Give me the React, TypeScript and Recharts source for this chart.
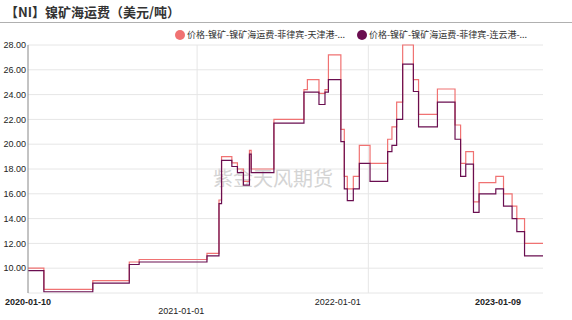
import React from "react";
import { LineChart, Line, XAxis, YAxis, CartesianGrid, ReferenceLine } from "recharts";

const dates = [
  "2020-01-10", "2020-02-16", "2020-06-09", "2020-09-02", "2020-09-25",
  "2021-03-02", "2021-03-30", "2021-04-05", "2021-04-29", "2021-05-12",
  "2021-05-26", "2021-06-09", "2021-06-13", "2021-08-05", "2021-10-14",
  "2021-10-22", "2021-11-18", "2021-12-02", "2021-12-10", "2022-01-08",
  "2022-01-16", "2022-01-23", "2022-02-06", "2022-02-20", "2022-03-17",
  "2022-04-27", "2022-05-07", "2022-05-18", "2022-06-01", "2022-06-26",
  "2022-07-08", "2022-08-21", "2022-10-01", "2022-10-14", "2022-10-26",
  "2022-11-13", "2022-11-26", "2023-01-04", "2023-01-22", "2023-02-11",
  "2023-02-22", "2023-03-12", "2023-04-24",
];

const tianjin = [
  10.0, 8.3, 9.0, 10.5, 10.7,
  11.2, 15.5, 19.0, 18.5, 18.0,
  17.0, 19.5, 18.0, 22.0, 24.4,
  25.2, 24.1, 24.4, 27.2, 21.2,
  17.4, 16.4, 17.4, 19.9, 18.45,
  20.4, 21.4, 23.4, 28.0, 25.2,
  22.4, 24.45, 21.55, 18.45, 19.4,
  15.35, 16.9, 17.4, 16.0, 15.0,
  14.0, 12.0, 12.0,
];

const lianyungang = [
  9.8, 8.1, 8.8, 10.3, 10.5,
  11.0, 15.2, 18.7, 18.2, 17.7,
  16.7, 19.2, 17.7, 21.7, 24.2,
  24.2, 23.2, 24.2, 25.2, 20.2,
  16.4, 15.45, 16.4, 18.45, 17.0,
  19.4, 19.9, 22.0, 26.45, 24.25,
  21.4, 23.4, 20.4, 17.4, 18.4,
  14.5, 16.0, 16.4, 15.0, 14.0,
  12.95, 11.0, 11.0,
];

const seriesNames = [
  "价格-镍矿-镍矿海运费-菲律宾-天津港-...",
  "价格-镍矿-镍矿海运费-菲律宾-连云港-...",
];
const seriesColors = ["#F07272", "#6A0E50"];

const xTickDates = ["2020-01-10", "2021-01-01", "2022-01-01", "2023-01-09"];
const boldTicks = ["2020-01-10", "2023-01-09"];
const yTicks = [10, 12, 14, 16, 18, 20, 22, 24, 26, 28];
const vGridDates = ["2021-02-07", "2022-03-13"];

const title = "【NI】镍矿海运费（美元/吨）";
const watermark = "紫金天风期货";

const data = dates.map((d, i) => ({
  t: Date.parse(d),
  a: tianjin[i],
  b: lianyungang[i],
}));

const fmtDate = (v: number) => new Date(v).toISOString().slice(0, 10);

const XTick = (props: any) => {
  const { x, y, payload, index } = props;
  const label = fmtDate(payload.value);
  const bold = boldTicks.includes(label);
  const extra = index === 1 ? 9 : 0;
  return (
    <text
      x={x}
      y={y + 4 + extra}
      textAnchor="middle"
      fontSize={9}
      fontFamily="Arial, 'Liberation Sans', sans-serif"
      fontWeight={bold ? 700 : 400}
      fill="#222"
    >
      {label}
    </text>
  );
};

export default function App() {
  return (
    <div
      style={{
        position: "absolute",
        left: 0,
        top: 0,
        width: 572,
        height: 320,
        background: "#fff",
        fontFamily: "Arial, 'Liberation Sans', sans-serif",
        overflow: "hidden",
      }}
    >
      <div
        style={{
          position: "absolute",
          left: 5,
          top: 3,
          fontSize: 13,
          fontWeight: 700,
          color: "#333",
          fontFamily: "'Noto Sans CJK SC', sans-serif",
          lineHeight: "18px",
          whiteSpace: "nowrap",
        }}
      >
        {title}
      </div>
      <div
        style={{
          position: "absolute",
          left: 0,
          top: 22,
          width: 572,
          height: 1,
          background: "#b0b0b0",
        }}
      />
      {seriesNames.map((name, i) => (
        <div
          key={name}
          style={{
            position: "absolute",
            left: i === 0 ? 175 : 357,
            top: 29,
            display: "flex",
            alignItems: "center",
            fontSize: 9,
            color: "#333",
            fontFamily: "'Noto Sans CJK SC', sans-serif",
            whiteSpace: "nowrap",
            lineHeight: "11px",
          }}
        >
          <span
            style={{
              display: "inline-block",
              width: 10,
              height: 10,
              borderRadius: 5,
              background: seriesColors[i],
              marginRight: 2,
            }}
          />
          {name}
        </div>
      ))}
      <div
        style={{
          position: "absolute",
          left: 213,
          top: 165,
          fontSize: 20,
          color: "#d4d4d4",
          fontFamily: "'Noto Sans CJK SC', sans-serif",
          whiteSpace: "nowrap",
          lineHeight: "26px",
        }}
      >
        {watermark}
      </div>
      <div style={{ position: "absolute", left: 0, top: 0 }}>
        <LineChart
          width={572}
          height={320}
          data={data}
          margin={{ top: 45, right: 29, bottom: 0, left: 0 }}
        >
          <CartesianGrid vertical={false} stroke="#e6e6e6" />
          {vGridDates.map((d) => (
            <ReferenceLine key={d} x={Date.parse(d)} stroke="#e6e6e6" />
          ))}
          <XAxis
            dataKey="t"
            type="number"
            scale="linear"
            domain={[Date.parse(dates[0]), Date.parse(dates[dates.length - 1])]}
            ticks={xTickDates.map((d) => Date.parse(d))}
            tick={<XTick />}
            axisLine={false}
            tickLine={false}
            height={27}
            interval={0}
          />
          <YAxis
            type="number"
            domain={[8, 28]}
            ticks={yTicks}
            tickFormatter={(v: number) => v.toFixed(2)}
            width={28}
            tickSize={0}
            tickMargin={2}
            tickLine={false}
            axisLine={{ stroke: "#888" }}
            tick={{ fontSize: 9, fill: "#222", fontFamily: "Arial, 'Liberation Sans', sans-serif" }}
            interval={0}
          />
          <Line
            type="stepAfter"
            dataKey="a"
            name={seriesNames[0]}
            stroke={seriesColors[0]}
            strokeWidth={1.2}
            dot={false}
            isAnimationActive={false}
          />
          <Line
            type="stepAfter"
            dataKey="b"
            name={seriesNames[1]}
            stroke={seriesColors[1]}
            strokeWidth={1.2}
            dot={false}
            isAnimationActive={false}
          />
        </LineChart>
      </div>
    </div>
  );
}
